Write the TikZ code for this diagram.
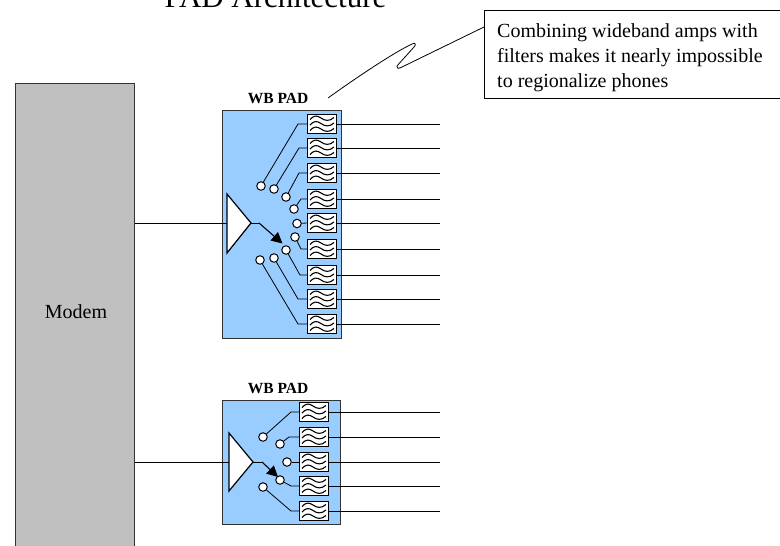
\documentclass[tikz,border=0pt]{standalone}
\usepackage{fontspec}
\setmainfont{Liberation Serif}
\usetikzlibrary{arrows.meta}
\definecolor{padblue}{HTML}{99CCFF}
\definecolor{modemgray}{HTML}{C0C0C0}
\definecolor{edgegray}{HTML}{333333}
\tikzset{
  padbox/.style={draw=edgegray,fill=padblue,line width=1pt,minimum width=#1,minimum height=0pt,inner sep=0pt},
  filterbox/.style={draw=black,fill=white,line width=1.5pt,minimum width=29pt,minimum height=19pt,inner sep=0pt},
  wavy/.style={line width=1.1pt,black},
  port/.style={circle,draw=black,fill=white,line width=1pt,minimum size=8.5pt,inner sep=0pt},
  wire/.style={line width=0.8pt,black},
  amp/.style={draw=black,fill=white,line width=1.2pt,line join=miter},
  padlabel/.style={font=\fontsize{15.5}{18}\selectfont\bfseries,anchor=base,inner sep=0pt},
  throw/.style={line width=1.1pt,black,-{Triangle[length=11pt,width=11pt]}},
}
\newcommand{\filt}[3]{%
  \node[filterbox] (#1) at (#2,#3) {};
  \begin{scope}[shift={(#1.center)}]
    \foreach \dy in {-5.5,0,5.5}
      \draw[wavy] (-12,\dy+1) .. controls (-8.5,\dy-3) and (-5,\dy-3.5) .. (-1,\dy-0.5)
        .. controls (3,\dy+2.5) and (7.5,\dy+3) .. (12,\dy-1);
  \end{scope}}
\newcommand{\throwline}[5]{% filter, port name, port x, port y, elbow x
  \node[port] (#2) at (#3,#4) {};
  \coordinate (#2e) at (#5,0);
  \draw[wire] (#2) -- (#2e |- #1.west) -- (#1.west);
}
\begin{document}
\begin{tikzpicture}[x=1pt,y=-1pt]
\useasboundingbox (0,0) rectangle (780,546);
% title
\node[font=\fontsize{31}{36}\selectfont,anchor=base,inner sep=0pt] (title) at (275.5,8) {PAD Architecture};
% modem
\node[draw=edgegray,fill=modemgray,line width=1pt,anchor=north west,minimum width=119pt,minimum height=480pt,inner sep=0pt] (modem) at (15,83) {};
\node[font=\fontsize{20}{24}\selectfont,inner sep=0pt] (modemlabel) at (76,312) {Modem};
% callout
\node[draw=black,line width=1pt,anchor=north west,minimum width=310pt,minimum height=88pt,inner sep=0pt] (callout) at (484,10) {};
\node[font=\fontsize{20}{25}\selectfont,anchor=north west,align=left,inner sep=0pt] (callouttext) at (497,23) {Combining wideband amps with\\filters makes it nearly impossible\\to regionalize phones};
\coordinate (tailstart) at (328,98);
\coordinate (tailend) at (callout.west |- 0,27);
\draw[line width=0.8pt] (tailstart) .. controls (360,75) and (395,52) .. (412,44)
  .. controls (416,42) and (416,45) .. (414,47)
  .. controls (408,54) and (402,60) .. (397,66)
  .. controls (396,68) and (398,69) .. (401,67.5) -- (tailend);

% ---- upper PAD ----
\node[padbox=119pt,minimum height=228pt,anchor=north west] (pad1) at (222,110) {};
\node[padlabel] (pad1label) at (278,103) {WB PAD};
\filt{fa}{322}{124}\filt{fb}{322}{148}\filt{fc}{322}{173}
\filt{fd}{322}{199}\filt{fe}{322}{223}\filt{ff}{322}{249}
\filt{fg}{322}{275}\filt{fh}{322}{299}\filt{fi}{322}{324}
\throwline{fa}{pa}{261}{186}{298}
\throwline{fb}{pb}{274}{189}{299}
\throwline{fc}{pc}{286}{197}{299}
\throwline{fd}{pd}{294}{209}{301}
\node[port] (pe) at (297,223.5) {};
\draw[wire] (pe) -- (fe.west);
\throwline{ff}{pf}{295}{237}{301}
\throwline{fg}{pg}{286}{250}{300}
\throwline{fh}{ph}{274}{258}{298}
\throwline{fi}{pi}{260}{260}{298}
\foreach \f/\y in {fa/124,fb/148,fc/173,fd/199,fe/223,ff/249,fg/275,fh/299,fi/324}{
  \coordinate (o\f) at (440,\y);
  \draw[wire] (\f.east) -- (o\f);
}
\coordinate (a1in) at (227,223);
\coordinate (a1out) at (251,223);
\draw[wire] (modem.east |- a1in) -- (a1in);
\draw[amp] (227,194) -- (a1out) -- (227,253) -- cycle;
\coordinate (a1bend) at (259,223);
\coordinate (a1tip) at (282.5,243.5);
\draw[wire] (a1out) -- (a1bend);
\draw[throw] (a1bend) -- (a1tip);

% ---- lower PAD ----
\node[padbox=118pt,minimum height=124pt,anchor=north west] (pad2) at (222,400) {};
\node[padlabel] (pad2label) at (278,393) {WB PAD};
\filt{ga}{314}{412}\filt{gb}{314}{437}\filt{gc}{314}{462}
\filt{gd}{314}{486}\filt{ge}{314}{511}
\throwline{ga}{qa}{263}{437}{291}
\throwline{gb}{qb}{280}{444}{289}
\node[port] (qc) at (287,462) {};
\draw[wire] (qc) -- (gc.west);
\throwline{gd}{qd}{280}{480}{291}
\throwline{ge}{qe}{263}{487}{291}
\foreach \f/\y in {ga/412,gb/437,gc/462,gd/486,ge/511}{
  \coordinate (o\f) at (440,\y);
  \draw[wire] (\f.east) -- (o\f);
}
\coordinate (a2in) at (229,462);
\coordinate (a2out) at (253,462);
\draw[wire] (modem.east |- a2in) -- (a2in);
\draw[amp] (229,433) -- (a2out) -- (229,491) -- cycle;
\coordinate (a2bend) at (262,462);
\coordinate (a2tip) at (278,477);
\draw[wire] (a2out) -- (a2bend);
\draw[throw] (a2bend) -- (a2tip);
\end{tikzpicture}
\end{document}
